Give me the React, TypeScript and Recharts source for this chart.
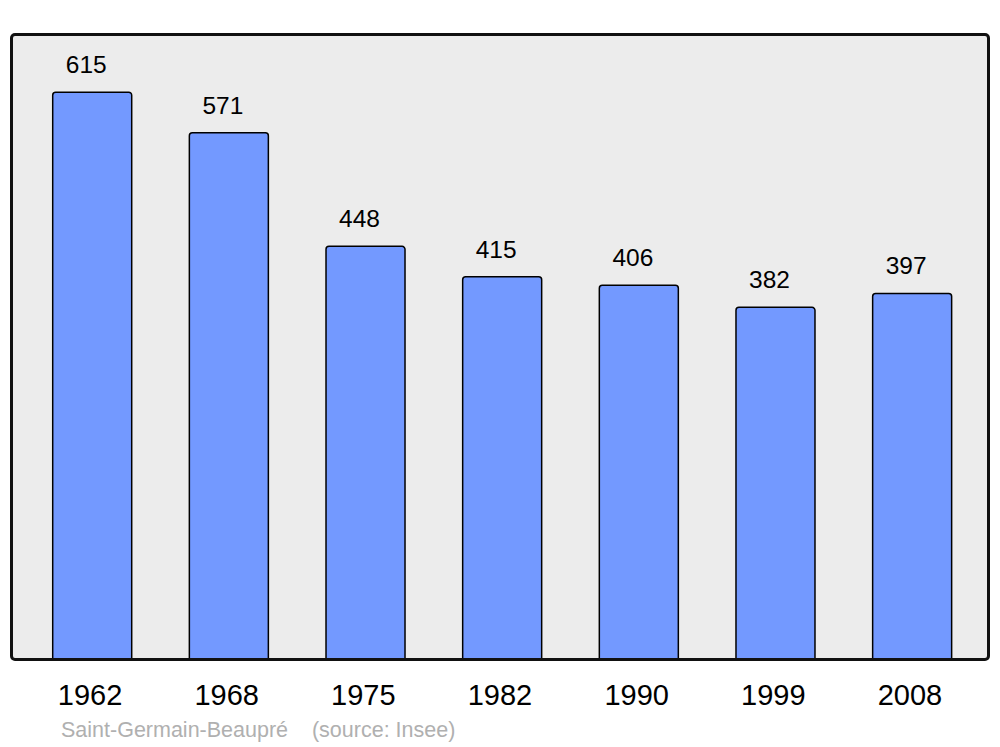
import React from "react";
import { BarChart, Bar, XAxis, YAxis, LabelList } from "recharts";

const years = ["1962", "1968", "1975", "1982", "1990", "1999", "2008"];
const population = [615, 571, 448, 415, 406, 382, 397];
const commune = "Saint-Germain-Beaupré";
const source = "(source: Insee)";

const data = years.map((year, i) => ({ year, population: population[i] }));

const font = "'Liberation Sans', Arial, sans-serif";

export default function App() {
  return (
    <div style={{ position: "absolute", left: 0, top: 0, width: 1000, height: 747, background: "#fff", fontFamily: font }}>
      {/* panel background */}
      <div style={{ position: "absolute", left: 11, top: 34, width: 978, height: 626, background: "#ececec" }} />
      <div style={{ position: "absolute", left: 0, top: 0 }}>
        <BarChart width={1000} height={747} data={data} margin={{ top: 34, right: 11, left: 11, bottom: 57 }}>
          <XAxis
            dataKey="year"
            axisLine={false}
            tickLine={false}
            tickSize={0}
            tickMargin={24.5}
            padding={{ left: 12.7, right: 8.7 }}
            tick={{ fill: "#000", fontSize: 29, fontFamily: font, dx: -2 }}
            interval={0}
          />
          <YAxis hide domain={[0, 678]} />
          <Bar dataKey="population" fill="#7399ff" stroke="#000" strokeWidth={1.5} barSize={79} radius={[3, 3, 0, 0]} isAnimationActive={false}>
            <LabelList dataKey="population" position="top" offset={19} dx={-6} fill="#000" fontSize={24.5} fontFamily={font} />
          </Bar>
        </BarChart>
      </div>
      {/* panel border */}
      <div style={{ position: "absolute", left: 10, top: 33, width: 980, height: 628, boxSizing: "border-box", border: "3px solid #111", borderRadius: 5, pointerEvents: "none" }} />
      <div style={{ position: "absolute", left: 61, top: 717.5, fontSize: 21.5, color: "#b0b0b0", whiteSpace: "pre" }}>
        {commune + "    " + source}
      </div>
    </div>
  );
}
